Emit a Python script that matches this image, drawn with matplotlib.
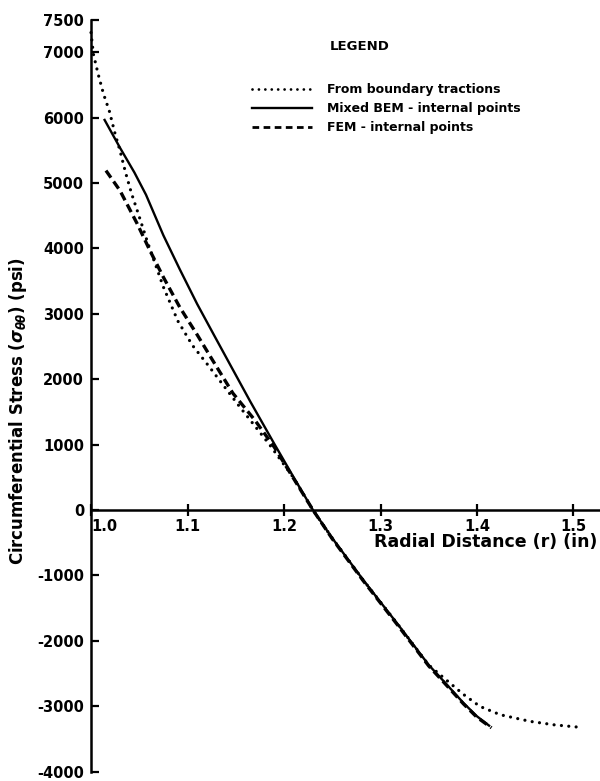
import matplotlib
matplotlib.use("Agg")
import matplotlib.pyplot as plt
from matplotlib.lines import Line2D

plt.rcParams['font.family'] = ['DejaVu Sans']
plt.rcParams['font.weight'] = 'bold'

# ---- data ----
r_boundary = [1.000, 1.0025, 1.0075, 1.013, 1.019, 1.025, 1.030, 1.036, 1.042, 1.049,
              1.058, 1.075, 1.090, 1.105, 1.121, 1.154, 1.185, 1.210, 1.230, 1.250,
              1.282, 1.317, 1.350, 1.365, 1.386, 1.403, 1.424, 1.455, 1.480, 1.507]
s_boundary = [7300, 6970, 6660, 6360, 6100, 5750, 5496, 5150, 4840, 4530,
              4120, 3410, 2890, 2520, 2220, 1580, 1000, 490, 0, -430,
              -1069, -1730, -2370, -2560, -2820, -3003, -3130, -3232, -3285, -3323]

r_bem = [1.0135, 1.030, 1.045, 1.057, 1.075, 1.092, 1.110, 1.128, 1.145, 1.165,
         1.190, 1.210, 1.230, 1.250, 1.282, 1.317, 1.350, 1.365, 1.386, 1.400, 1.4135]
s_bem = [5980, 5540, 5160, 4820, 4200, 3680, 3150, 2660, 2200, 1660,
         1010, 500, 0, -430, -1069, -1730, -2370, -2610, -2951, -3155, -3308]

r_fem = [1.0155, 1.030, 1.0477, 1.061, 1.075, 1.092, 1.110, 1.126, 1.147, 1.170,
         1.190, 1.210, 1.230, 1.250, 1.282, 1.317, 1.350, 1.365, 1.386, 1.400, 1.415]
s_fem = [5190, 4885, 4382, 3969, 3560, 3100, 2680, 2290, 1786, 1370,
         960, 480, 0, -440, -1080, -1745, -2385, -2625, -2965, -3170, -3330]

labels = ["From boundary tractions", "Mixed BEM - internal points", "FEM - internal points"]

y_ticks = [7500, 7000, 6000, 5000, 4000, 3000, 2000, 1000, 0,
           -1000, -2000, -3000, -4000]
y_ticklabels = ["7500", "7000", "6000", "5000", "4000", "3000", "2000", "1000", "0",
                "-1000", "-2000", "-3000", "-4000"]
x_ticks = [1.0, 1.1, 1.2, 1.3, 1.4, 1.5]
x_ticklabels = ["1.0", "1.1", "1.2", "1.3", "1.4", "1.5"]

# ---- figure ----
W, H = 600, 781
fig = plt.figure(figsize=(W / 100, H / 100), dpi=100)
ax_left, ax_right = 91, 600
ax_top, ax_bot = 19.5, 771.6
ax = fig.add_axes([ax_left / W, (H - ax_bot) / H, (ax_right - ax_left) / W, (ax_bot - ax_top) / H])

dot_style = (0, (0.01, 2.3))
dash_style = (0, (2.6, 1.4))

ax.plot(r_boundary, s_boundary, color='black', lw=2.3, linestyle=dot_style,
        dash_capstyle='round', clip_on=False)
ax.plot(r_bem, s_bem, color='black', lw=1.7, solid_capstyle='butt', clip_on=False)
ax.plot(r_fem, s_fem, color='black', lw=2.4, linestyle=dash_style, clip_on=False)

ax.set_xlim(1.0, 1.0 + (ax_right - ax_left) / 965.0)
ax.set_ylim(-4000, 7500)

for s in ['top', 'right']:
    ax.spines[s].set_visible(False)
ax.spines['bottom'].set_position(('data', 0))
ax.spines['left'].set_linewidth(1.8)
ax.spines['bottom'].set_linewidth(1.8)

ax.set_xticks(x_ticks)
ax.set_xticklabels(x_ticklabels)
ax.set_yticks(y_ticks)
ax.set_yticklabels(y_ticklabels)
ax.tick_params(axis='x', direction='inout', length=8.6, width=1.6, pad=2.2, labelsize=10.5)
ax.tick_params(axis='y', direction='in', length=6, width=1.6, pad=5, labelsize=10.5)
for t in ax.get_xticklabels() + ax.get_yticklabels():
    t.set_fontweight('bold')
ax.get_xticklabels()[0].set_horizontalalignment('left')

# axis labels
fig.text(597 / W, 1 - 542 / H, "Radial Distance (r) (in)", ha='right', va='center',
         fontsize=12.5, fontweight='bold')
fig.text(18 / W, 1 - 411 / H, r"Circumferential Stress ($\sigma_{\theta\theta}$) (psi)",
         rotation=90, ha='center', va='center', fontsize=11.9, fontweight='bold')

# legend
fig.text(330 / W, 1 - 47 / H, "LEGEND", ha='left', va='center', fontsize=9.5, fontweight='bold')
handles = [Line2D([], [], color='black', lw=2.0, linestyle=dot_style, dash_capstyle='round'),
           Line2D([], [], color='black', lw=1.7),
           Line2D([], [], color='black', lw=2.0, linestyle=(0, (2.4, 1.6)))]
leg = fig.legend(handles, labels, loc='upper left', bbox_to_anchor=(252 / W, 1 - 83.5 / H),
                 frameon=False, fontsize=9, handlelength=4.8, handletextpad=1.2,
                 labelspacing=0.47, borderpad=0, borderaxespad=0)
for t in leg.get_texts():
    t.set_fontweight('bold')

fig.savefig("out.png", dpi=100)
